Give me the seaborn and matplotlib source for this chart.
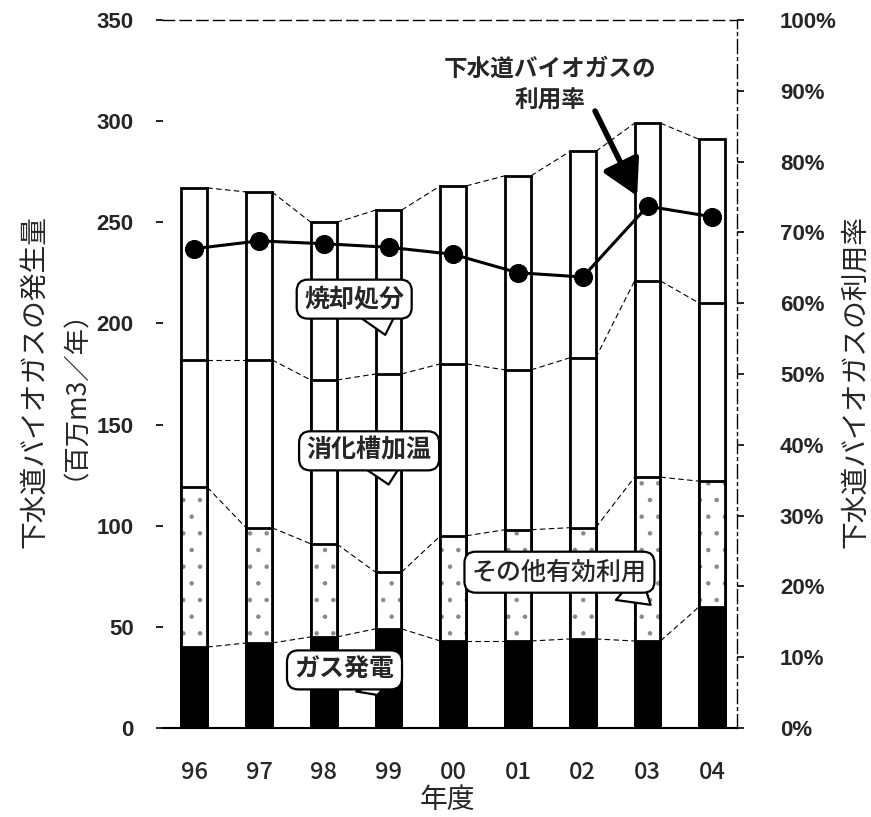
import numpy as np
import pandas as pd
import matplotlib
matplotlib.use("Agg")
import matplotlib.pyplot as plt
import seaborn as sns

# data
years = ["96", "97", "98", "99", "00", "01", "02", "03", "04"]
gas_power = [40, 42, 45, 49, 43, 43, 44, 43, 60]            # ガス発電
other_use = [79, 57, 46, 28, 52, 55, 55, 81, 62]            # その他有効利用
digester_heat = [63, 83, 81, 98, 85, 79, 84, 97, 88]        # 消化槽加温
incineration = [85, 83, 78, 81, 88, 96, 102, 78, 81]        # 焼却処分
use_rate = [67.7, 68.8, 68.4, 67.9, 66.9, 64.3, 63.7, 73.7, 72.2]  # 利用率 %

sns.set_theme(style="white")
plt.rcParams["font.family"] = ["Noto Sans CJK JP", "DejaVu Sans"]
plt.rcParams["hatch.linewidth"] = 0.8

df = pd.DataFrame({"year": years, "gas": gas_power, "other": other_use,
                   "heat": digester_heat, "incin": incineration})
df["c1"] = df["gas"]
df["c2"] = df["c1"] + df["other"]
df["c3"] = df["c2"] + df["heat"]
df["c4"] = df["c3"] + df["incin"]

fig = plt.figure(figsize=(8.71, 8.17), dpi=100)
ax = fig.add_axes([0.187, 0.109, 0.659, 0.8665])
W = 0.4

common = dict(data=df, x="year", order=years, width=W, errorbar=None,
              saturation=1, ax=ax)
sns.barplot(y="c4", color="white", edgecolor="black", linewidth=2, **common)
sns.barplot(y="c3", color="white", edgecolor="black", linewidth=2, **common)
sns.barplot(y="c2", color="white", edgecolor="#8a8a8a", linewidth=0,
            hatch=".", **common)
sns.barplot(y="c2", fill=False, color="black", linewidth=2, **common)
sns.barplot(y="c1", color="black", edgecolor="black", linewidth=2, **common)

# thin dashed connectors between neighbouring bars
for col in ["c1", "c2", "c3", "c4"]:
    v = df[col].values
    for i in range(len(years) - 1):
        ax.plot([i + W / 2, i + 1 - W / 2], [v[i], v[i + 1]], color="black",
                lw=0.8, ls=(0, (5, 3)), zorder=1)

ax.set_xlim(-0.485, 8.38)
ax.set_ylim(0, 350)
ax.set_yticks(range(0, 351, 50))
ax.set_xlabel("")
ax.set_ylabel("")
ax.tick_params(axis="y", which="both", left=True, length=5, width=1.2,
               color="black", pad=16)
ax.tick_params(axis="x", length=0, pad=24)
for lab in ax.get_yticklabels():
    lab.set_fontfamily("Liberation Sans")
    lab.set_fontweight("bold")
    lab.set_fontsize(16)
for lab in ax.get_xticklabels():
    lab.set_fontsize(17)
    lab.set_fontweight("medium")
ax.spines["left"].set_visible(False)
ax.spines["right"].set_visible(False)
ax.spines["top"].set_linestyle((0, (8, 4)))
ax.spines["top"].set_linewidth(1)
ax.spines["bottom"].set_linewidth(1.5)
for s in ["top", "bottom"]:
    ax.spines[s].set_color("black")

# utilisation rate on the right axis
ax2 = ax.twinx()
x_pos = np.arange(len(years))
sns.lineplot(x=x_pos, y=use_rate, ax=ax2, color="black", lw=2.2,
             marker="o", markersize=13, markeredgecolor="black")
ax2.set_ylim(0, 100)
ax2.set_xlim(-0.485, 8.38)
ax2.set_yticks(range(0, 101, 10))
ax2.set_yticklabels([f"{v}%" for v in range(0, 101, 10)])
ax2.set_ylabel("")
ax2.tick_params(axis="y", right=True, length=5, width=1.2, color="black",
                pad=26)
for lab in ax2.get_yticklabels():
    lab.set_fontfamily("Liberation Sans")
    lab.set_fontweight("bold")
    lab.set_fontsize(16)
for s in ["left", "top", "bottom"]:
    ax2.spines[s].set_visible(False)
ax2.spines["right"].set_linestyle((0, (10, 3, 2, 3)))
ax2.spines["right"].set_color("black")
ax2.spines["right"].set_linewidth(1)

# callouts
def callout(text, xytext, xy, rel, weight="bold"):
    ax2.annotate(text, xy=xy, xytext=xytext, xycoords=ax.transData,
                 textcoords=ax.transData, ha="center", va="center",
                 fontsize=18, fontweight=weight, zorder=10,
                 bbox=dict(boxstyle="round,pad=0.3,rounding_size=0.45",
                           fc="white", ec="black", lw=1.6),
                 arrowprops=dict(arrowstyle="wedge,tail_width=1.5",
                                 fc="white", ec="black", lw=1.6,
                                 relpos=rel, patchA=None))

callout("焼却処分", (2.47, 212), (2.96, 193), (0.75, 0.0))
callout("消化槽加温", (2.70, 137), (3.01, 119), (0.62, 0.0))
callout("ガス発電", (2.32, 28.7), (2.85, 15), (0.78, 0.0))
callout("その他有効利用", (5.64, 77), (7.08, 60), (0.88, 0.05), weight="medium")

ax2.text(5.5, 318, "下水道バイオガスの\n利用率", transform=ax.transData,
         ha="center", va="center", fontsize=17, fontweight="bold",
         linespacing=1.45, zorder=10)
ax2.annotate("", xy=(6.84, 263), xytext=(6.19, 305), xycoords=ax.transData,
             textcoords=ax.transData,
             arrowprops=dict(arrowstyle="-|>,head_length=0.9,head_width=0.5",
                             color="black", lw=4, mutation_scale=24,
                             shrinkA=0, shrinkB=0))

# axis titles
fig.text(447 / 871, 1 - 800 / 817, "年度", ha="center", va="center",
         fontsize=20)
fig.text(34 / 871, 1 - 381 / 817, "下水道バイオガスの発生量", rotation=90,
         ha="center", va="center", fontsize=20)
fig.text(62 / 871, 1 - 381 / 817, "（百万m3／年）", rotation=90,
         ha="center", va="center", fontsize=19)
fig.text(855 / 871, 1 - 381 / 817, "下水道バイオガスの利用率", rotation=90,
         ha="center", va="center", fontsize=20)

fig.savefig("out.png", dpi=100)
